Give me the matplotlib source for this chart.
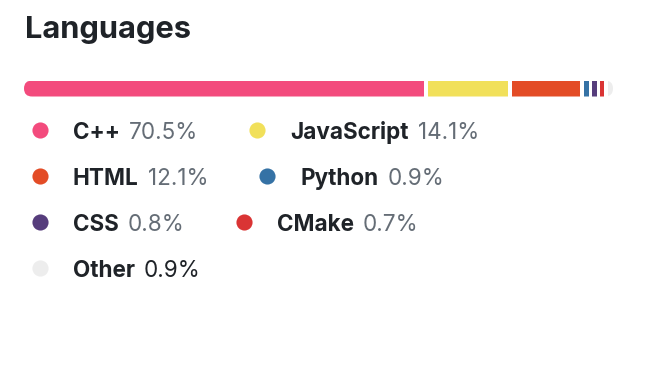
import matplotlib
matplotlib.use("Agg")
import matplotlib.pyplot as plt
from matplotlib.patches import FancyBboxPatch

# language breakdown
languages = ["C++", "JavaScript", "HTML", "Python", "CSS", "CMake", "Other"]
percents = [70.5, 14.1, 12.1, 0.9, 0.8, 0.7, 0.9]
colors = ["#f34b7d", "#f1e05a", "#e34c26", "#3572a5", "#563d7c", "#da3434", "#ededed"]

plt.rcParams["font.family"] = ["Inter", "DejaVu Sans"]
DARK = "#1f2328"
MUTED = "#656d76"

W, H = 647, 365
fig = plt.figure(figsize=(W / 100, H / 100), dpi=100)
ax = fig.add_axes([0, 0, 1, 1])
ax.set_xlim(0, W)
ax.set_ylim(H, 0)
ax.axis("off")

ax.text(25, 38, "Languages", fontsize=22.2, fontweight="bold", color=DARK, va="baseline")

# stacked bar, px per percent plus a small gap between segments
x0, scale, gap = 24, 5.68, 3.5
bar_y, bar_h = 88.5, 16
lefts = []
pos = x0
for p in percents:
    lefts.append(pos)
    pos += p * scale + gap
bar_end = lefts[-1] + percents[-1] * scale
bars = ax.barh([bar_y] * len(percents), [p * scale for p in percents], left=lefts,
               height=bar_h, color=colors, linewidth=0)
clip = FancyBboxPatch((x0, bar_y - bar_h / 2), bar_end - x0, bar_h,
                      boxstyle="round,pad=0,rounding_size=8", transform=ax.transData,
                      facecolor="none", edgecolor="none")
ax.add_patch(clip)
for b in bars:
    b.set_clip_path(clip)

# legend, two items per row, flowing left to right
fig.canvas.draw()
renderer = fig.canvas.get_renderer()
baselines = [139, 185, 231, 277]
fs = 16.2
for i, (name, p, c) in enumerate(zip(languages, percents, colors)):
    row = i // 2
    base = baselines[row]
    if i % 2 == 0:
        x = 32
    else:
        x = prev_end + 51
    ax.scatter([x + 8], [base - 9], s=135, color=c, linewidths=0)
    t = ax.text(x + 41, base, name, fontsize=fs, fontweight="bold", color=DARK, va="baseline")
    bb = t.get_window_extent(renderer)
    pc = DARK if name == "Other" else MUTED
    t2 = ax.text(bb.x1 + 9, base, f"{p}%", fontsize=fs, color=pc, va="baseline")
    prev_end = t2.get_window_extent(renderer).x1

fig.savefig("out.png", dpi=100, facecolor="white")
